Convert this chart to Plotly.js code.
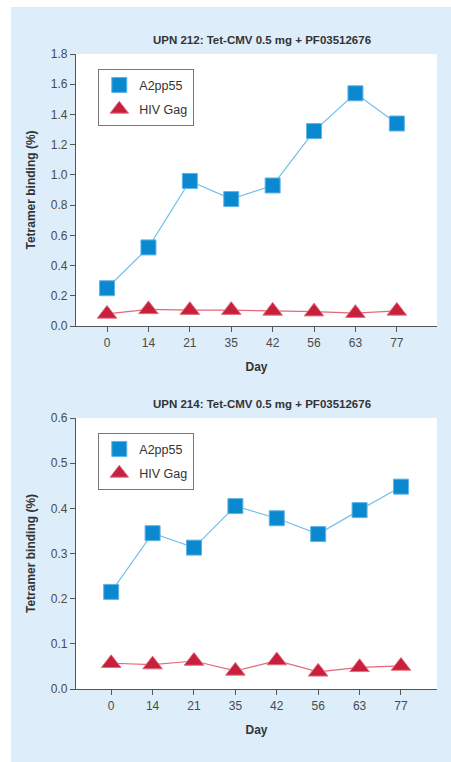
<!DOCTYPE html>
<html><head><meta charset="utf-8">
<script src="https://cdn.plot.ly/plotly-3.0.1.min.js"></script>
<style>
html,body{margin:0;padding:0;background:#ffffff;}
#chart{position:absolute;left:11px;top:7px;width:440px;height:755px;}
</style></head>
<body><div id="chart"></div>
<script>
const days = ['0','14','21','35','42','56','63','77'];
const upn212_a2pp55 = [0.25, 0.52, 0.96, 0.84, 0.93, 1.29, 1.54, 1.34];
const upn212_hivgag = [0.08, 0.11, 0.105, 0.105, 0.10, 0.095, 0.085, 0.10];
const upn214_a2pp55 = [0.215, 0.345, 0.313, 0.405, 0.378, 0.343, 0.396, 0.448];
const upn214_hivgag = [0.057, 0.054, 0.062, 0.040, 0.063, 0.038, 0.048, 0.051];
const titles = ['UPN 212: Tet-CMV 0.5 mg + PF03512676', 'UPN 214: Tet-CMV 0.5 mg + PF03512676'];
const seriesNames = ['A2pp55', 'HIV Gag'];

const blue = '#0a89d0', blueLine = '#72c0ea', blueEdge = '#5fb4e6';
const red = '#c8203c', redLine = '#e4687a', redEdge = '#e0707e';
const fontFam = 'Liberation Sans, Arial, sans-serif';

function series(y, xa, ya, leg, idx){
  const isSq = idx === 0;
  const line = {x: days, y: y, xaxis: xa, yaxis: ya, name: seriesNames[idx], showlegend: false, hoverinfo: 'skip',
    mode: 'lines', line: {color: isSq ? blueLine : redLine, width: 1.2}};
  const mk = {x: days, y: y, xaxis: xa, yaxis: ya, name: seriesNames[idx], legend: leg, legendgroup: leg + idx, showlegend: true,
    mode: 'markers',
    marker: isSq ? {symbol: 'square', size: 15, color: blue, line: {color: blueEdge, width: 1}}
                 : {symbol: 'triangle-up', size: 17, color: red, line: {color: redEdge, width: 1}}};
  return [line, mk];
}
const data = [].concat(
  series(upn212_a2pp55, 'x', 'y', 'legend', 0),
  series(upn212_hivgag, 'x', 'y', 'legend', 1),
  series(upn214_a2pp55, 'x2', 'y2', 'legend2', 0),
  series(upn214_hivgag, 'x2', 'y2', 'legend2', 1)
);

const axFont = {family: fontFam, size: 12, color: '#4a4a4a'};
const titleFont = {family: fontFam, size: 12, color: '#333', weight: 'bold'};
function xax(domain, anchor, range){
  return {domain: domain, anchor: anchor, type: 'category', categoryorder: 'array', categoryarray: days,
    range: range, showgrid: false, zeroline: false, showline: true, linecolor: '#555', linewidth: 1.2,
    ticks: 'outside', ticklen: 5, tickcolor: '#555', tickwidth: 1, tickfont: axFont,
    title: {text: 'Day', font: titleFont, standoff: 14}, fixedrange: true};
}
function yax(domain, anchor, range, dtick){
  return {domain: domain, anchor: anchor, range: range, dtick: dtick, tickformat: '.1f',
    showgrid: false, zeroline: false, showline: true, linecolor: '#555', linewidth: 1.2,
    ticks: 'outside', ticklen: 5, tickcolor: '#555', tickwidth: 1, tickfont: axFont,
    title: {text: 'Tetramer binding (%)', font: titleFont, standoff: 12}, fixedrange: true};
}
const xd = [65/440, 426/440];
const legStyle = (y) => ({x: 87/440, y: y, xref: 'paper', yref: 'paper', xanchor: 'left', yanchor: 'top',
  bgcolor: '#ffffff', bordercolor: '#777', borderwidth: 1.3, traceorder: 'grouped', tracegroupgap: 5,
  font: {family: fontFam, size: 12.5, color: '#333'}});
const layout = {
  width: 440, height: 755, margin: {l: 0, r: 0, t: 0, b: 0},
  paper_bgcolor: '#ddeefa', plot_bgcolor: '#ffffff',
  font: {family: fontFam},
  xaxis: xax(xd, 'y', [-0.75, 7.97]),
  yaxis: yax([(755-319)/755, (755-47)/755], 'x', [0, 1.8], 0.2),
  xaxis2: xax(xd, 'y2', [-0.85, 7.87]),
  yaxis2: yax([(755-682)/755, (755-411)/755], 'x2', [0, 0.6], 0.1),
  legend: legStyle((755-62)/755),
  legend2: legStyle((755-426)/755),
  annotations: [
    {text: titles[0], xref: 'paper', yref: 'paper', x: 251/440, y: (755-33)/755, xanchor: 'center', yanchor: 'middle',
     showarrow: false, font: {family: fontFam, size: 11.5, color: '#333', weight: 'bold'}},
    {text: titles[1], xref: 'paper', yref: 'paper', x: 251/440, y: (755-397)/755, xanchor: 'center', yanchor: 'middle',
     showarrow: false, font: {family: fontFam, size: 11.5, color: '#333', weight: 'bold'}}
  ]
};
Plotly.newPlot('chart', data, layout, {displayModeBar: false, staticPlot: true});
</script></body></html>
